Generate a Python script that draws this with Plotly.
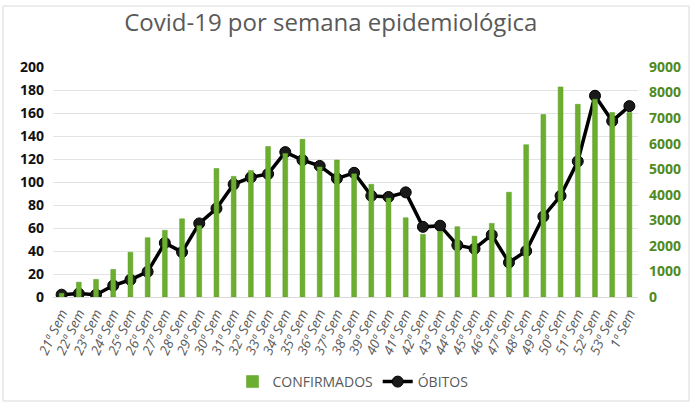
import plotly.graph_objects as go

weeks = [f"{w}ª Sem" for w in range(21, 54)] + ["1ª Sem"]
confirmados = [150, 580, 690, 1080, 1750, 2320, 2610, 3060, 2790, 5030,
               4720, 4950, 5890, 5620, 6170, 5090, 5360, 4820, 4410, 3870,
               3100, 2450, 2570, 2750, 2380, 2880, 4100, 5960, 7140, 8220,
               7540, 7740, 7220, 7220]
obitos = [2, 3, 2, 10, 15, 22, 47, 39, 64, 77,
          98, 104, 107, 126, 119, 114, 103, 108, 88, 87,
          91, 61, 62, 45, 42, 54, 30, 40, 70, 88,
          118, 175, 153, 166]

left_ticks = list(range(0, 201, 20))
right_ticks = list(range(0, 9001, 1000))

W, H = 691, 403
L, R, T, B = 53, 53, 67, 106
pw, ph = W - L - R, H - T - B

def px(x):
    return (x - L) / pw

def py(y):
    return (H - B - y) / ph

fig = go.Figure()
fig.add_trace(go.Bar(
    x=weeks, y=confirmados, name="CONFIRMADOS", yaxis="y2",
    marker=dict(color="#6cae2f", line=dict(color="#5a9c24", width=0.5)),
    width=0.28,
))
fig.add_trace(go.Scatter(
    x=weeks, y=obitos, name="ÓBITOS", yaxis="y",
    mode="lines+markers",
    line=dict(color="#000000", width=3.5),
    marker=dict(color="#1a1a1a", size=11, line=dict(color="#000000", width=1)),
))

fig.update_layout(
    width=W, height=H,
    margin=dict(l=L, r=R, t=T, b=B, autoexpand=False),
    paper_bgcolor="white", plot_bgcolor="white",
    title=dict(text="Covid-19 por semana epidemiológica", x=px(333), xanchor="center",
               y=1 - 23 / H, yanchor="middle",
               font=dict(family="Open Sans", size=24, color="#595959")),
    font=dict(family="Open Sans"),
    xaxis=dict(
        type="category", range=[-0.5, len(weeks) - 0.5], tickangle=-65,
        showgrid=False, automargin=False,
        tickfont=dict(family="Open Sans", size=13.5, color="#595959", style="italic"),
        showline=True, linecolor="#d9d9d9", linewidth=1, ticks="",
        ticklabelstandoff=2,
    ),
    yaxis=dict(
        range=[0, 200], tickvals=left_ticks, showgrid=True, gridcolor="#e3e3e3",
        zeroline=False, automargin=False,
        tickfont=dict(family="Open Sans", size=14, color="#111111", weight="bold"),
        ticklabelstandoff=8,
    ),
    yaxis2=dict(
        range=[0, 9000], tickvals=right_ticks, overlaying="y", side="right",
        showgrid=False, zeroline=False, automargin=False,
        tickfont=dict(family="Open Sans", size=14, color="#4f8a22", weight="bold"),
        ticklabelstandoff=10,
    ),
    legend=dict(orientation="h", x=px(353), xanchor="center", y=py(382), yanchor="middle",
                font=dict(family="Open Sans", size=14, color="#595959"),
                traceorder="normal"),
    shapes=[dict(type="rect", xref="paper", yref="paper",
                 x0=px(3), x1=px(689), y0=py(401), y1=py(6),
                 line=dict(color="#d9d9d9", width=1), layer="below")],
)

fig.write_html("out.html", config={"displayModeBar": False},
               post_script="document.body.style.margin='0';")
